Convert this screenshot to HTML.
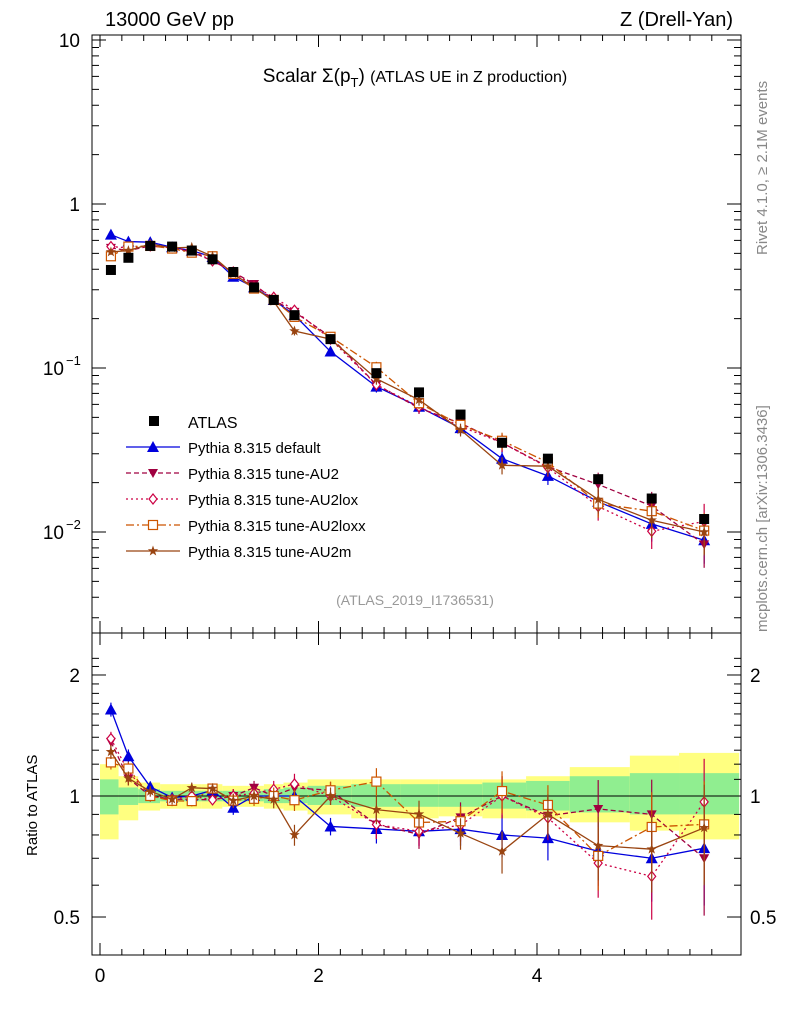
<!DOCTYPE html>
<html><head><meta charset="utf-8"><style>
body{margin:0;background:#fff;font-family:"Liberation Sans",sans-serif}
svg text{font-family:"Liberation Sans",sans-serif}
</style></head><body>
<svg id="c" width="786" height="1024" xmlns="http://www.w3.org/2000/svg"></svg>
<script>
const xs=[0.1,0.26,0.46,0.66,0.84,1.03,1.22,1.41,1.59,1.78,2.11,2.53,2.92,3.3,3.68,4.1,4.56,5.05,5.53];
const edges=[0,0.17,0.35,0.55,0.75,0.93,1.12,1.3,1.5,1.68,1.9,2.3,2.75,3.1,3.5,3.9,4.3,4.85,5.3,5.85];
const atlas=[0.396,0.47,0.555,0.55,0.52,0.46,0.385,0.31,0.26,0.21,0.15,0.093,0.071,0.052,0.035,0.028,0.021,0.016,0.012];
const bandTotLo=[0.78,0.87,0.92,0.93,0.93,0.93,0.94,0.94,0.93,0.92,0.9,0.88,0.88,0.89,0.88,0.88,0.86,0.82,0.78];
const bandTotHi=[1.2,1.12,1.08,1.07,1.07,1.07,1.06,1.06,1.07,1.08,1.1,1.1,1.1,1.1,1.1,1.12,1.18,1.26,1.28];
const bandStatLo=[0.9,0.95,0.96,0.97,0.97,0.97,0.97,0.97,0.96,0.96,0.95,0.94,0.94,0.94,0.93,0.92,0.91,0.9,0.9];
const bandStatHi=[1.1,1.05,1.04,1.03,1.03,1.03,1.03,1.03,1.04,1.05,1.06,1.07,1.07,1.07,1.08,1.09,1.12,1.14,1.14];
const mcRelErr=[0.04,0.04,0.03,0.03,0.03,0.03,0.04,0.04,0.05,0.06,0.05,0.08,0.08,0.09,0.12,0.12,0.18,0.22,0.28];
const sDefault=[0.65,0.59,0.585,0.545,0.52,0.475,0.36,0.31,0.26,0.21,0.126,0.077,0.058,0.043,0.028,0.022,0.0153,0.0112,0.0089];
const sAU2=[0.54,0.52,0.555,0.54,0.51,0.45,0.385,0.325,0.26,0.22,0.155,0.079,0.057,0.046,0.035,0.025,0.0195,0.0144,0.0084];
const sAU2lox=[0.55,0.54,0.555,0.54,0.52,0.45,0.385,0.315,0.27,0.225,0.15,0.079,0.058,0.044,0.035,0.0247,0.0143,0.0101,0.0116];
const sAU2loxx=[0.48,0.55,0.555,0.535,0.505,0.48,0.375,0.305,0.26,0.205,0.155,0.101,0.061,0.045,0.036,0.0266,0.0149,0.0134,0.0102];
const sAU2m=[0.51,0.52,0.57,0.54,0.545,0.48,0.375,0.31,0.255,0.168,0.15,0.086,0.064,0.042,0.0255,0.0252,0.0158,0.0118,0.01];
const seriesNames=["Pythia 8.315 default","Pythia 8.315 tune-AU2","Pythia 8.315 tune-AU2lox","Pythia 8.315 tune-AU2loxx","Pythia 8.315 tune-AU2m"];

const svg=document.getElementById('c');const NS="http://www.w3.org/2000/svg";
function el(t,a,p){const e=document.createElementNS(NS,t);for(const k in a)e.setAttribute(k,a[k]);(p||svg).appendChild(e);return e;}
const L=92,R=741,T=35,M=633,B=955;
const X=v=>100+v*109.25;
const Y=v=>204-Math.log10(v)*164;
const YR=v=>796-Math.log10(v)*402;
const clip1=el('clipPath',{id:'c1'});el('rect',{x:L,y:T,width:R-L,height:M-T},clip1);
const clip2=el('clipPath',{id:'c2'});el('rect',{x:L,y:M,width:R-L,height:B-M},clip2);

// bands
const bg=el('g',{'clip-path':'url(#c2)'});

for(let i=0;i<xs.length;i++){
 const x1=X(edges[i]),x2=X(edges[i+1]);
 let r=el('rect',{x:x1,y:YR(bandTotHi[i]),width:x2-x1,height:YR(bandTotLo[i])-YR(bandTotHi[i]),fill:'#ffff80'},bg);
 
 r=el('rect',{x:x1,y:YR(bandStatHi[i]),width:x2-x1,height:YR(bandStatLo[i])-YR(bandStatHi[i]),fill:'#90ee90'},bg);
 
}
el('line',{x1:L,x2:R,y1:YR(1),y2:YR(1),stroke:'#000','stroke-width':1});

// frames
let f=el('rect',{x:L,y:T,width:R-L,height:M-T,fill:'none',stroke:'#000','stroke-width':1});

f=el('rect',{x:L,y:M,width:R-L,height:B-M,fill:'none',stroke:'#000','stroke-width':1});


// x ticks
for(let v=0;v<=5.8;v+=0.2){const vv=Math.round(v*10)/10;const maj=Math.abs(vv-Math.round(vv/2)*2)<1e-6;const len=maj?12:6;
 for(const[y0,dir]of[[M,-1],[T,1],[B,-1],[M,1]])el('line',{x1:X(vv),x2:X(vv),y1:y0,y2:y0+dir*len,stroke:'#000'});}
[0,2,4].forEach(v=>{const t=el('text',{x:X(v),y:982,'font-size':19,'text-anchor':'middle'});t.textContent=v;
 });
// main y ticks
for(let d=-3;d<=1;d++)for(let m=1;m<=9;m++){const v=m*Math.pow(10,d);const y=Y(v);if(y<T||y>M)continue;const len=m==1?14:7;
 el('line',{x1:L,x2:L+len,y1:y,y2:y,stroke:'#000'});el('line',{x1:R,x2:R-len,y1:y,y2:y,stroke:'#000'});}
const ylab=[[10,'10'],[1,'1']];
ylab.forEach(([v,s])=>{const t=el('text',{x:80,y:Y(v)+7,'font-size':19,'text-anchor':'end'});t.textContent=s;});
[[0.1,'−1'],[0.01,'−2']].forEach(([v,e])=>{const t=el('text',{x:64,y:Y(v)+7,'font-size':19,'text-anchor':'end'});t.textContent='10';
 
 const s=el('text',{x:66,y:Y(v)-3,'font-size':13});s.textContent=e;});
// ratio ticks
for(let v=0.4;v<=2.3;v+=0.1){const vv=Math.round(v*10)/10;const y=YR(vv);if(y<M||y>B)continue;const maj=[0.5,1,2].includes(vv);const len=maj?14:7;
 el('line',{x1:L,x2:L+len,y1:y,y2:y,stroke:'#000'});el('line',{x1:R,x2:R-len,y1:y,y2:y,stroke:'#000'});}
[[0.5,'0.5'],[1,'1'],[2,'2']].forEach(([v,s])=>{let t=el('text',{x:80,y:YR(v)+7,'font-size':19,'text-anchor':'end'});t.textContent=s;
 
 t=el('text',{x:750,y:YR(v)+7,'font-size':19});t.textContent=s;});

// texts
function txt(s,a,name,fill){const t=el('text',a);t.textContent=s;if(fill)t.setAttribute('fill',fill);return t;}
txt('13000 GeV pp',{x:105,y:26,'font-size':20},'energy-label');
txt('Z (Drell-Yan)',{x:733,y:26,'font-size':20,'text-anchor':'end'},'process-label');
const tt=el('text',{x:415,y:82,'font-size':19,'text-anchor':'middle'});
tt.innerHTML='Scalar Σ(p<tspan font-size="13" dy="5">T</tspan><tspan dy="-5">) </tspan><tspan font-size="16">(ATLAS UE in Z production)</tspan>';
txt('(ATLAS_2019_I1736531)',{x:415,y:605,'font-size':14,'text-anchor':'middle'},'analysis-id','#999');
txt('Rivet 4.1.0, ≥ 2.1M events',{x:0,y:0,'font-size':15,transform:'translate(767,255) rotate(-90)'},'rivet-label','#888');
txt('mcplots.cern.ch [arXiv:1306.3436]',{x:0,y:0,'font-size':15,transform:'translate(767,632) rotate(-90)'},'mcplots-label','#888');
txt('Ratio to ATLAS',{x:0,y:0,'font-size':15,transform:'translate(37,856) rotate(-90)'},'ratio-axis-title');

// markers
const styles=[
 {c:'#0000dd',dash:'',m:'tri'},
 {c:'#a00040',dash:'5,3',m:'tridown'},
 {c:'#cc0044',dash:'2,3',m:'diamond'},
 {c:'#cc5500',dash:'8,3,2,3',m:'square'},
 {c:'#994411',dash:'',m:'star'}];
function marker(g,m,x,y,c){
 if(m=='tri')el('polygon',{points:`${x},${y-6} ${x-6},${y+5} ${x+6},${y+5}`,fill:c},g);
 else if(m=='tridown')el('polygon',{points:`${x},${y+5} ${x-5},${y-4} ${x+5},${y-4}`,fill:c},g);
 else if(m=='diamond')el('polygon',{points:`${x},${y-5} ${x-4},${y} ${x},${y+5} ${x+4},${y}`,fill:'#fff',stroke:c,'stroke-width':1.2},g);
 else if(m=='square')el('rect',{x:x-4.5,y:y-4.5,width:9,height:9,fill:'#fff',stroke:c,'stroke-width':1.2},g);
 else if(m=='star'){let p=[];for(let k=0;k<10;k++){const r=k%2?2.2:5.5,a=-Math.PI/2+k*Math.PI/5;p.push((x+r*Math.cos(a))+','+(y+r*Math.sin(a)));}el('polygon',{points:p.join(' '),fill:c},g);}
}
const all=[sDefault,sAU2,sAU2lox,sAU2loxx,sAU2m];
all.forEach((s,si)=>{
 const st=styles[si];
 const g=el('g',{'clip-path':'url(#c1)'});
 const g2=el('g',{'clip-path':'url(#c2)'});
 el('polyline',{points:xs.map((x,i)=>X(x)+','+Y(s[i])).join(' '),fill:'none',stroke:st.c,'stroke-width':1.3,'stroke-dasharray':st.dash},g);
 el('polyline',{points:xs.map((x,i)=>X(x)+','+YR(s[i]/atlas[i])).join(' '),fill:'none',stroke:st.c,'stroke-width':1.3,'stroke-dasharray':st.dash},g2);
 xs.forEach((x,i)=>{
  const v=s[i],e=mcRelErr[i],r=v/atlas[i];
  el('line',{x1:X(x),x2:X(x),y1:Y(v*(1+e)),y2:Y(v*(1-e)),stroke:st.c,'stroke-width':1.2},g);
  el('line',{x1:X(x),x2:X(x),y1:YR(r*(1+e)),y2:YR(r*(1-e)),stroke:st.c,'stroke-width':1.2},g2);
  marker(g,st.m,X(x),Y(v),st.c);marker(g2,st.m,X(x),YR(r),st.c);
 });
});
// atlas points
const ga=el('g',{});
xs.forEach((x,i)=>{const r=el('rect',{x:X(x)-5,y:Y(atlas[i])-5,width:10,height:10,fill:'#000'},ga);
 });

// legend
const lg=el('g',{});
el('rect',{x:149,y:416,width:10,height:10,fill:'#000'},lg);
let t=el('text',{x:188,y:428,'font-size':16},lg);t.textContent='ATLAS';
seriesNames.forEach((n,i)=>{const y=447+i*26;const st=styles[i];
 const e=el('g',{},lg);
 el('line',{x1:126,x2:180,y1:y,y2:y,stroke:st.c,'stroke-width':1.3,'stroke-dasharray':st.dash},e);
 marker(e,st.m,153,y,st.c);
 const tx=el('text',{x:188,y:y+6,'font-size':15},e);tx.textContent=n;});
</script>
</body></html>
